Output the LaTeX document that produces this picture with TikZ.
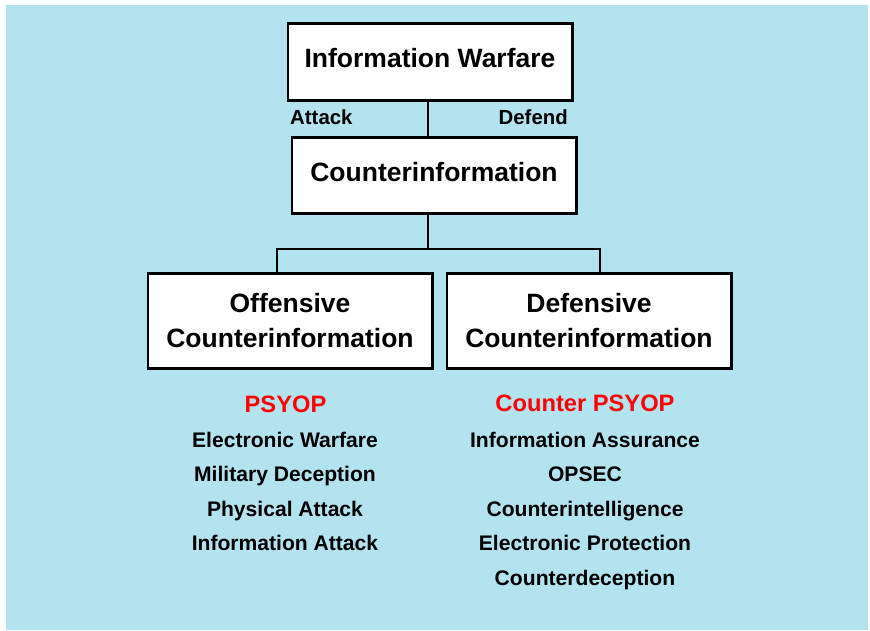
\documentclass[tikz,border=0pt]{standalone}
\usepackage{fontspec}
\setmainfont{Liberation Sans}
\usepackage{xcolor}
\usepackage{tikz}
\usetikzlibrary{positioning,calc}
\definecolor{SkyBack}{HTML}{B3E3EE}
\definecolor{PsyRed}{HTML}{FF0000}
\tikzset{
  titlebox/.style={draw=black, line width=2.5pt, fill=white, align=center, minimum width=284.5pt, inner sep=0pt, font=\bfseries\fontsize{26.5}{35}\selectfont},
  branchlabel/.style={inner sep=0pt, font=\bfseries\fontsize{20.4}{24}\selectfont},
  headitem/.style={inner sep=0pt, anchor=base, text=PsyRed, font=\bfseries\fontsize{23.7}{28}\selectfont},
  listitem/.style={inner sep=0pt, anchor=base, font=\bfseries\fontsize{21.1}{25}\selectfont},
  link/.style={line width=2pt, draw=black}
}

\begin{document}
\begin{tikzpicture}[x=1pt, y=1pt]
  \useasboundingbox (0,0) rectangle (870,-630);
  \fill[SkyBack] (6,-5) rectangle (868,-630);

  % hierarchy boxes
  \node[titlebox, minimum height=77pt, text depth=8pt] (iw) at (430,-62) {Information Warfare};
  \node[titlebox, minimum height=76pt, text depth=8pt] (ci) at (434,-175.5) {Counterinformation};
  \node[titlebox, minimum height=95pt] (off) at (290,-321) {Offensive\\Counterinformation};
  \node[titlebox, minimum height=95pt, right=12pt of off] (def) {Defensive\\Counterinformation};

  \node[branchlabel, anchor=base west] (attack) at (290,-124) {Attack};
  \node[branchlabel, anchor=base east] (defend) at (568,-124) {Defend};

  % connectors
  \coordinate (split) at (428,-249);
  \draw[link] ([xshift=-2pt]iw.south) -- ([xshift=-2pt]iw.south |- ci.north);
  \draw[link] (ci.south -| split) -- (split);
  \draw[link] (split) -| ([xshift=-13pt]off.north);
  \draw[link] (split) -| ([xshift=11pt]def.north);

  % activity lists
  \node[headitem] (psyop) at (285.5,-412) {PSYOP};
  \node[headitem] (cpsyop) at (585,-411) {Counter PSYOP};
  \foreach \item [count=\i from 0] in {Electronic Warfare, Military Deception, Physical Attack, Information Attack}
    \node[listitem] (offitem\i) at (285,-447-34.6*\i) {\item};
  \foreach \item [count=\i from 0] in {Information Assurance, OPSEC, Counterintelligence, Electronic Protection, Counterdeception}
    \node[listitem] (defitem\i) at (585,-447-34.6*\i) {\item};
\end{tikzpicture}
\end{document}
